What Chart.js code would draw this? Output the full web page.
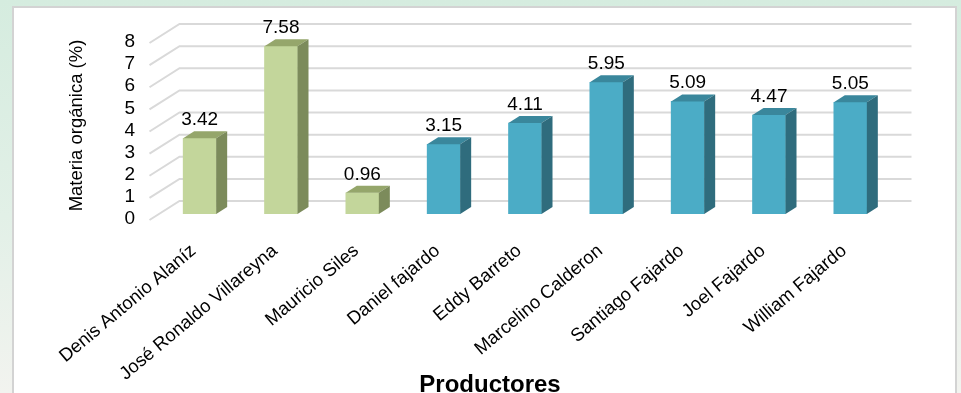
<!DOCTYPE html>
<html>
<head>
<meta charset="utf-8">
<title>Materia orgánica por productor</title>
<script src="https://cdn.jsdelivr.net/npm/chart.js@4.4.1/dist/chart.umd.min.js"></script>
<style>
    html, body {
        margin: 0;
        padding: 0;
        width: 961px;
        height: 393px;
        overflow: hidden;
        background: linear-gradient(to bottom, #d5ecdf 0%, #e2f0e7 55%, #f2f3ef 100%);
    }
    #panel {
        position: absolute;
        left: 12px;
        top: 6px;
        width: 941px;
        height: 400px;
        background: #fff;
        border: 2px solid #d3d3d3;
    }
    #wrap {
        position: absolute;
        left: 0;
        top: 0;
        width: 961px;
        height: 393px;
    }
</style>
</head>
<body>
<div id="panel"></div>
<div id="wrap"><canvas id="chartCanvas"></canvas></div>
<script>
"use strict";

// datos
const productores = [
    "Denis Antonio Alaníz",
    "José Ronaldo Villareyna",
    "Mauricio Siles",
    "Daniel fajardo",
    "Eddy Barreto",
    "Marcelino Calderon",
    "Santiago Fajardo",
    "Joel Fajardo",
    "William Fajardo"
];
const materiaOrganica = [3.42, 7.58, 0.96, 3.15, 4.11, 5.95, 5.09, 4.47, 5.05];
const grupo = [1, 1, 1, 2, 2, 2, 2, 2, 2];
const yTicks = [0, 1, 2, 3, 4, 5, 6, 7, 8];
const tituloX = "Productores";
const tituloY = "Materia orgánica (%)";

// colores de cada grupo (frente, tapa, lado)
const colores = {
    1: { front: "#c3d69b", top: "#95a66b", side: "#7c8b5b" },
    2: { front: "#4bacc6", top: "#3a879c", side: "#2f6c7d" }
};

(function() {
    const depthX = 11, depthY = 7;
    const fuente = "'Liberation Sans', Arial, sans-serif";

    const bar3d = {
        id: "bar3d",
        beforeDatasetsDraw(chart) {
            const ctx = chart.ctx;
            const a = chart.chartArea;
            const y = chart.scales.y;
            ctx.save();
            ctx.strokeStyle = "#d9d9d9";
            ctx.lineWidth = 2;
            yTicks.forEach(function(v) {
                const py = y.getPixelForValue(v);
                ctx.beginPath();
                ctx.moveTo(a.left - 9.5, py + 6);
                ctx.lineTo(a.left + 20.5, py - 13);
                ctx.lineTo(a.right + 20.5, py - 13);
                ctx.stroke();
            });
            ctx.restore();
        },
        afterDatasetsDraw(chart) {
            const ctx = chart.ctx;
            const meta = chart.getDatasetMeta(0);
            ctx.save();
            meta.data.forEach(function(bar, i) {
                const p = bar.getProps(["x", "y", "base", "width"], true);
                const l = p.x - p.width / 2;
                const r = p.x + p.width / 2;
                const c = colores[grupo[i]];

                // tapa
                ctx.fillStyle = c.top;
                ctx.beginPath();
                ctx.moveTo(l, p.y);
                ctx.lineTo(l + depthX, p.y - depthY);
                ctx.lineTo(r + depthX, p.y - depthY);
                ctx.lineTo(r, p.y);
                ctx.closePath();
                ctx.fill();

                // lado
                ctx.fillStyle = c.side;
                ctx.beginPath();
                ctx.moveTo(r, p.y);
                ctx.lineTo(r + depthX, p.y - depthY);
                ctx.lineTo(r + depthX, p.base - depthY);
                ctx.lineTo(r, p.base);
                ctx.closePath();
                ctx.fill();

                // etiqueta
                ctx.fillStyle = "#000";
                ctx.font = "19px " + fuente;
                ctx.textAlign = "center";
                ctx.textBaseline = "alphabetic";
                ctx.fillText(materiaOrganica[i].toFixed(2), p.x, p.y - 13);
            });

            // titulo del eje x (desplazado a la izquierda como en el original)
            ctx.font = "bold 24px " + fuente;
            ctx.textAlign = "center";
            ctx.textBaseline = "alphabetic";
            ctx.fillText(tituloX, chart.chartArea.left + 331, 392);
            ctx.restore();
        }
    };

    function Start() {
        Chart.defaults.font.family = fuente;
        Chart.defaults.color = "#000";

        const ctx = document.getElementById("chartCanvas").getContext("2d");
        new Chart(ctx, {
            type: "bar",
            data: {
                labels: productores,
                datasets: [{
                    label: tituloY,
                    data: materiaOrganica,
                    backgroundColor: grupo.map(g => colores[g].front),
                    borderWidth: 0,
                    barThickness: 33
                }]
            },
            options: {
                responsive: true,
                maintainAspectRatio: false,
                animation: false,
                events: [],
                layout: {
                    padding: { left: 62, right: 70, top: 37, bottom: 0 }
                },
                plugins: {
                    legend: { display: false },
                    tooltip: { enabled: false }
                },
                scales: {
                    x: {
                        grid: { display: false, drawTicks: false },
                        border: { display: false },
                        ticks: {
                            autoSkip: false,
                            minRotation: 40,
                            maxRotation: 40,
                            padding: 26,
                            labelOffset: -6,
                            font: { size: 18.5 }
                        },
                        afterFit(scale) {
                            scale.height = 179;
                        }
                    },
                    y: {
                        min: 0,
                        max: 8,
                        grid: { display: false, drawTicks: false },
                        border: { display: false },
                        ticks: {
                            autoSkip: false,
                            stepSize: 1,
                            padding: 24,
                            labelOffset: 5,
                            font: { size: 19 }
                        },
                        title: {
                            display: true,
                            text: tituloY,
                            font: { size: 18.5 },
                            padding: { top: 4, bottom: 0 }
                        },
                        afterFit(scale) {
                            scale.width = 97;
                        }
                    }
                }
            },
            plugins: [bar3d]
        });
    }

    window.addEventListener("load", Start);
})();
</script>
</body>
</html>
